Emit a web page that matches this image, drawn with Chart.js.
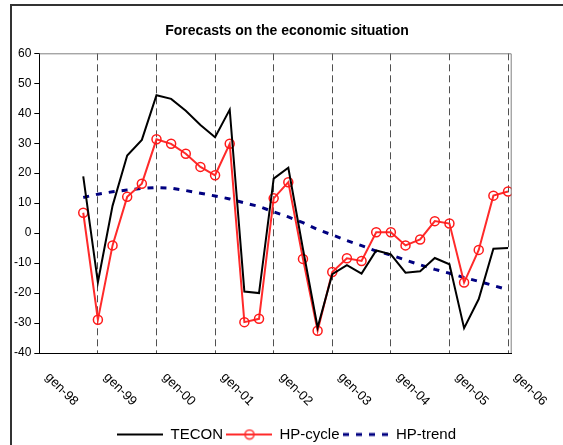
<!DOCTYPE html>
<html>
<head>
<meta charset="utf-8">
<script src="https://cdn.jsdelivr.net/npm/chart.js@4/dist/chart.umd.min.js"></script>
<style>
    body { margin: 0; background: #fff; overflow: hidden; }
    #frame {
        position: absolute; left: 10px; top: 4px;
        width: 600px; height: 500px;
        border: 2px solid #333;
    }
    #chartBox { position: absolute; left: 11px; top: 5px; }
</style>
</head>
<body>
<div id="frame"></div>
<div id="chartBox"><canvas id="mainChart" width="552" height="447"></canvas></div>
<script>
// Quarterly data, oct-98 .. gen-06 (x = quarters since gen-98)
const firstQuarter = 3;
const yearLabels = ['gen-98', 'gen-99', 'gen-00', 'gen-01', 'gen-02', 'gen-03', 'gen-04', 'gen-05', 'gen-06'];

const tecon = [18.9, -16.4, 9.1, 25.9, 31.1, 46.0, 44.8, 40.8, 36.1, 32.0,
    41.2, -19.5, -20.0, 18.2, 21.8, -5.3, -31.5, -13.7, -10.7, -13.5,
    -5.8, -7.1, -13.2, -12.7, -8.3, -10.4, -31.7, -22.0, -5.2, -5.0];

const hpCycle = [6.8, -28.9, -4.1, 12.1, 16.5, 31.3, 29.8, 26.5, 22.1, 19.3,
    29.8, -29.7, -28.6, 11.6, 17.0, -8.6, -32.6, -13.0, -8.4, -9.3,
    0.3, 0.3, -4.1, -2.1, 4.0, 3.2, -16.5, -5.6, 12.5, 13.9];

const hpTrend = [11.9, 13.0, 13.8, 14.4, 14.9, 15.2, 15.0, 14.2, 13.3, 12.4,
    11.4, 10.1, 8.9, 7.1, 5.4, 3.5, 1.2, -0.6, -2.5, -4.2,
    -6.0, -7.3, -9.0, -10.6, -12.1, -13.4, -14.8, -16.1, -17.5, -18.9];

const FONT = '"Liberation Sans", Arial, sans-serif';
Chart.defaults.font.family = FONT;
Chart.defaults.color = '#000';

function toPoints(values) {
    return values.map((v, i) => ({ x: firstQuarter + i, y: v }));
}

// small legend swatch: line (optionally dashed) with an optional circle marker
function legendSwatch(color, width, dash, marker) {
    const c = document.createElement('canvas');
    c.width = 46;
    c.height = 12;
    const g = c.getContext('2d');
    g.strokeStyle = color;
    g.lineWidth = width;
    g.setLineDash(dash);
    g.beginPath();
    g.moveTo(0, 6);
    g.lineTo(46, 6);
    g.stroke();
    if (marker) {
        g.setLineDash([]);
        g.lineWidth = 1.5;
        g.beginPath();
        g.arc(23, 6, 4.5, 0, Math.PI * 2);
        g.stroke();
    }
    return c;
}

const swatches = [
    legendSwatch('#000', 2, [], false),
    legendSwatch('#ff2a2a', 2, [], true),
    legendSwatch('#000080', 3, [6, 7], false)
];

// top and right edges of the plot area
const plotFrame = {
    id: 'plotFrame',
    afterDraw(chart) {
        const { ctx, chartArea: a } = chart;
        ctx.save();
        ctx.strokeStyle = '#808080';
        ctx.lineWidth = 1;
        ctx.beginPath();
        ctx.moveTo(a.left, a.top + 0.5);
        ctx.lineTo(a.right - 0.5, a.top + 0.5);
        ctx.lineTo(a.right - 0.5, a.bottom);
        ctx.stroke();
        ctx.restore();
    }
};

// year labels, turned 45 degrees downwards
const slantedLabels = {
    id: 'slantedLabels',
    afterDraw(chart) {
        const { ctx, chartArea } = chart;
        const xScale = chart.scales.x;
        ctx.save();
        ctx.font = '13px ' + FONT;
        ctx.fillStyle = '#000';
        ctx.textAlign = 'left';
        ctx.textBaseline = 'middle';
        yearLabels.forEach((label, i) => {
            const px = xScale.getPixelForValue(i * 4);
            ctx.save();
            ctx.translate(px + 8, chartArea.bottom + 22);
            ctx.rotate(Math.PI / 4);
            ctx.fillText(label, 0, 0);
            ctx.restore();
        });
        ctx.restore();
    }
};

const ctx = document.getElementById('mainChart').getContext('2d');

new Chart(ctx, {
    type: 'line',
    data: {
        datasets: [
            {
                label: 'TECON',
                data: toPoints(tecon),
                borderColor: '#000',
                borderWidth: 2,
                pointRadius: 0,
                tension: 0
            },
            {
                label: 'HP-cycle',
                data: toPoints(hpCycle),
                borderColor: '#ff2a2a',
                borderWidth: 2,
                pointStyle: 'circle',
                pointRadius: 4.5,
                pointBorderWidth: 1.5,
                pointBorderColor: '#ff1a1a',
                pointBackgroundColor: 'rgba(255,255,255,0)',
                tension: 0
            },
            {
                label: 'HP-trend',
                data: toPoints(hpTrend),
                borderColor: '#000080',
                borderWidth: 3,
                borderDash: [6, 7],
                pointRadius: 0,
                tension: 0
            }
        ]
    },
    options: {
        responsive: false,
        animation: false,
        devicePixelRatio: 1,
        layout: { padding: 0 },
        plugins: {
            title: {
                display: true,
                text: 'Forecasts on the economic situation',
                font: { size: 14, weight: 'bold' },
                color: '#000',
                padding: { top: 18, bottom: 13.5 }
            },
            legend: {
                position: 'bottom',
                labels: {
                    usePointStyle: true,
                    pointStyleWidth: 45,
                    boxHeight: 12,
                    padding: 4,
                    font: { size: 15 },
                    color: '#000',
                    generateLabels(chart) {
                        return chart.data.datasets.map((ds, i) => ({
                            text: ds.label,
                            pointStyle: swatches[i],
                            datasetIndex: i,
                            fontColor: '#000',
                            lineWidth: 0
                        }));
                    }
                }
            },
            tooltip: { enabled: false }
        },
        scales: {
            x: {
                type: 'linear',
                min: 0,
                max: 32.25,
                ticks: { stepSize: 4, display: false, includeBounds: false },
                grid: { color: '#505050', lineWidth: 1, drawTicks: false },
                border: { display: true, color: '#000', width: 1, dash: [7, 4] },
                afterFit(scale) { scale.height = 70; }
            },
            y: {
                min: -40,
                max: 60,
                ticks: { stepSize: 10, font: { size: 12 }, color: '#000', padding: 3 },
                grid: { drawOnChartArea: false, drawTicks: true, tickLength: 5, color: '#000' },
                border: { display: true, color: '#000', width: 1 },
                afterFit(scale) { scale.width = 28.3; }
            },
            yr: {
                position: 'right',
                display: true,
                grid: { display: false },
                ticks: { display: false },
                border: { display: false },
                afterFit(scale) { scale.width = 51.3; }
            }
        }
    },
    plugins: [plotFrame, slantedLabels]
});
</script>
</body>
</html>
